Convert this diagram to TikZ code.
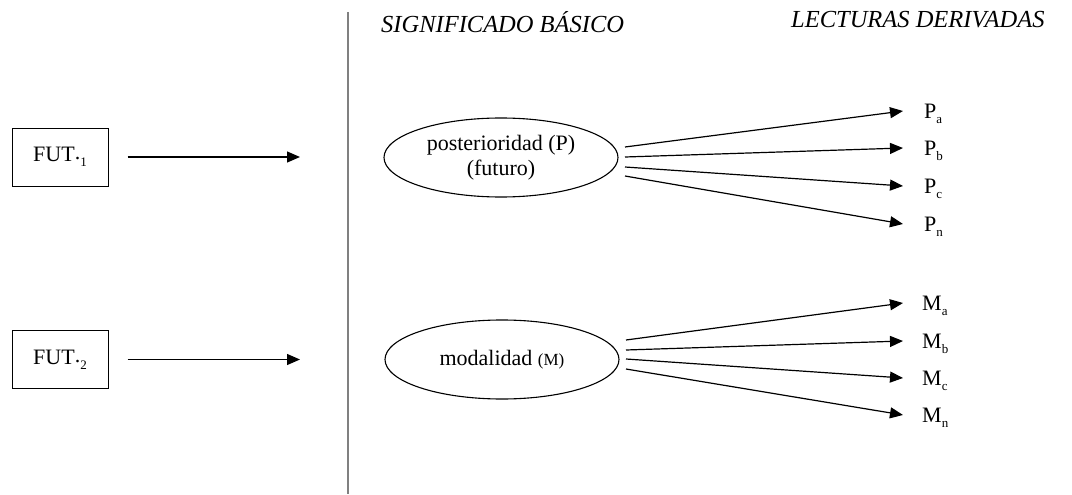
\documentclass[tikz,border=0pt]{standalone}
\usepackage{fontspec}
\setmainfont{Liberation Serif}
\usetikzlibrary{arrows.meta,shapes.geometric}

% lowered small index after a letter
\newcommand\lowidx[1]{\raisebox{-5pt}{\fontsize{13}{13}\selectfont #1}}

\begin{document}
\begin{tikzpicture}[x=1pt,y=-1pt,
  conn/.style={line width=1.2pt},
  arr/.style={conn,-{Triangle[length=13pt,width=11pt]}},
  futbox/.style={draw,line width=1pt,minimum width=96pt,minimum height=58pt,
    inner sep=0pt,font=\fontsize{22}{26}\selectfont},
  sense/.style={draw,ellipse,line width=1.1pt,minimum width=234pt,minimum height=79pt,
    inner sep=0pt,align=center,font=\fontsize{22}{25}\selectfont},
  reading/.style={inner sep=0pt,anchor=west,text height=15pt,text depth=0pt,
    font=\fontsize{22}{26}\selectfont},
  heading/.style={inner sep=0pt,anchor=base west,font=\fontsize{24.5}{28}\selectfont\itshape}]

\useasboundingbox (0,0) rectangle (1072,495);

% divider between forms and meanings
\draw[line width=2pt,color=black!50] (347.5,12) -- (347.5,494);

% column headings
\node[heading] (hbase) at (381,33) {SIGNIFICADO BÁSICO};
\node[heading] (hder) at (791,28) {LECTURAS DERIVADAS};

% the two future forms
\node[futbox] (fut1) at (60,157) {FUT\raisebox{2pt}{.}\lowidx{1}};
\node[futbox] (fut2) at (60,359.5) {FUT\raisebox{2pt}{.}\lowidx{2}};
\coordinate (f1end) at (300,157);
\coordinate (f2end) at (300,359.5);
\draw[arr] ([xshift=19pt]fut1.east) -- (f1end);
\draw[arr] ([xshift=19pt]fut2.east) -- (f2end);

% basic meanings
\node[sense] (post) at (501,157.5) {posterioridad (P)\\(futuro)};
\node[sense] (moda) at (502,359.5) {modalidad {\fontsize{17}{20}\selectfont(M)}};

% derived readings
\node[reading] (pa) at (924,111) {P\lowidx{a}};
\node[reading] (pb) at (924,148) {P\lowidx{b}};
\node[reading] (pc) at (924,186) {P\lowidx{c}};
\node[reading] (pn) at (924,224) {P\lowidx{n}};
\node[reading] (ma) at (922,303) {M\lowidx{a}};
\node[reading] (mb) at (922,341) {M\lowidx{b}};
\node[reading] (mc) at (922,378) {M\lowidx{c}};
\node[reading] (mn) at (922,415) {M\lowidx{n}};

% fan starting points beside each ellipse
\coordinate (ps1) at (625,147);
\coordinate (ps2) at (625,157);
\coordinate (ps3) at (625,167);
\coordinate (ps4) at (625,176);
\coordinate (ms1) at (626,340);
\coordinate (ms2) at (626,350);
\coordinate (ms3) at (626,359);
\coordinate (ms4) at (626,369);

\draw[arr] (ps1) -- ([xshift=-21pt]pa.west);
\draw[arr] (ps2) -- ([xshift=-21pt]pb.west);
\draw[arr] (ps3) -- ([xshift=-21pt]pc.west);
\draw[arr] (ps4) -- ([xshift=-21pt]pn.west);
\draw[arr] (ms1) -- ([xshift=-19pt]ma.west);
\draw[arr] (ms2) -- ([xshift=-19pt]mb.west);
\draw[arr] (ms3) -- ([xshift=-19pt]mc.west);
\draw[arr] (ms4) -- ([xshift=-19pt]mn.west);
\end{tikzpicture}
\end{document}
